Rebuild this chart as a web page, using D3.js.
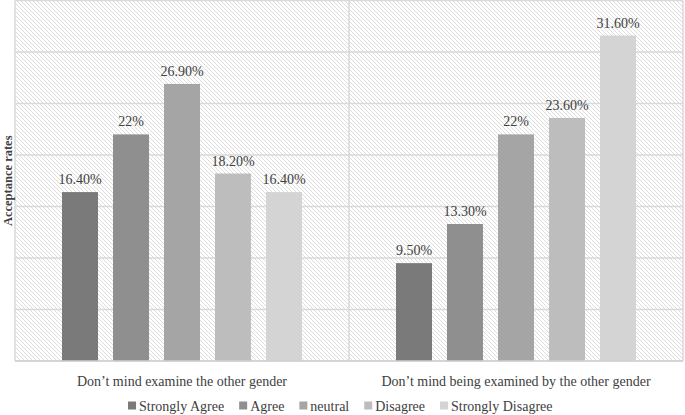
<!DOCTYPE html>
<html>
<head>
<meta charset="utf-8">
<script src="https://cdn.jsdelivr.net/npm/d3@7"></script>
<style>
html,body{margin:0;padding:0;background:#fff;}
svg{display:block;}
svg text{font-family:"Liberation Serif","Times New Roman",Times,serif;}
</style>
</head>
<body>
<svg id="chart" width="685" height="415"></svg>
<script>
const categories = ["Don\u2019t mind examine the other gender", "Don\u2019t mind being examined by the other gender"];
const seriesNames = ["Strongly Agree", "Agree", "neutral", "Disagree", "Strongly Disagree"];
const seriesColors = ["#7a7a7a", "#8f8f8f", "#a5a5a5", "#bdbdbd", "#d4d4d4"];
const valuesExamine = [16.4, 22, 26.9, 18.2, 16.4];
const valuesExamined = [9.5, 13.3, 22, 23.6, 31.6];
const labelsExamine = ["16.40%", "22%", "26.90%", "18.20%", "16.40%"];
const labelsExamined = ["9.50%", "13.30%", "22%", "23.60%", "31.60%"];
const yTicks = [0, 5, 10, 15, 20, 25, 30, 35];

const svg = d3.select("#chart");
const m = {left: 15, right: 2, top: 0.5, bottom: 54};
const W = 685, H = 415;
const x0 = m.left, x1 = W - m.right, yTop = m.top, yBot = H - m.bottom;

const defs = svg.append("defs");
const pat = defs.append("pattern").attr("id", "hatch").attr("patternUnits", "userSpaceOnUse")
  .attr("width", 4).attr("height", 4);
pat.append("rect").attr("width", 4).attr("height", 4).attr("fill", "#fff");
pat.append("path").attr("d", "M-1,-1 L5,5 M-1,3 L1,5 M3,-1 L5,1")
  .attr("stroke", "#dcdcdc").attr("stroke-width", 1);

const xBand = d3.scaleBand().domain(categories).range([x0, x1]).paddingInner(0).paddingOuter(0);
const y = d3.scaleLinear().domain([0, 35]).range([yBot, yTop]);
const bw = xBand.bandwidth();
const groupW = 240;
const xInner = d3.scaleBand().domain(seriesNames).range([(bw - groupW) / 2, (bw + groupW) / 2]).paddingInner(15 / 51).paddingOuter(0);

svg.append("rect").attr("x", x0).attr("y", yTop).attr("width", x1 - x0).attr("height", yBot - yTop)
  .attr("fill", "url(#hatch)");

svg.append("g").selectAll("line").data(yTicks).join("line")
  .attr("x1", x0).attr("x2", x1)
  .attr("y1", d => y(d)).attr("y2", d => y(d))
  .attr("stroke", "#d9d9d9").attr("stroke-width", 1.5);

const seps = [x0, xBand(categories[1]), x1];
svg.append("g").selectAll("line").data(seps).join("line")
  .attr("x1", d => d).attr("x2", d => d).attr("y1", yTop).attr("y2", yBot)
  .attr("stroke", "#d9d9d9").attr("stroke-width", 1.5);

const groups = [
  {cat: categories[0], vals: valuesExamine, labs: labelsExamine},
  {cat: categories[1], vals: valuesExamined, labs: labelsExamined}
];

groups.forEach(g => {
  const gx = xBand(g.cat);
  const data = seriesNames.map((s, i) => ({s, v: g.vals[i], l: g.labs[i], c: seriesColors[i]}));
  svg.append("g").selectAll("rect").data(data).join("rect")
    .attr("x", d => gx + xInner(d.s)).attr("width", xInner.bandwidth())
    .attr("y", d => y(d.v)).attr("height", d => y(0) - y(d.v))
    .attr("fill", d => d.c);
  svg.append("g").selectAll("text").data(data).join("text")
    .attr("x", d => gx + xInner(d.s) + xInner.bandwidth() / 2)
    .attr("y", d => y(d.v) - 8)
    .attr("text-anchor", "middle")
    .attr("font-size", 14).attr("fill", "#404040")
    .text(d => d.l);
});

svg.append("line").attr("x1", x0).attr("x2", x1).attr("y1", yBot).attr("y2", yBot)
  .attr("stroke", "#d0d0d0").attr("stroke-width", 1.5);

svg.append("g").selectAll("text").data(categories).join("text")
  .attr("x", d => xBand(d) + bw / 2).attr("y", yBot + 25)
  .attr("text-anchor", "middle").attr("font-size", 14).attr("fill", "#404040")
  .text(d => d);

svg.append("text").attr("transform", `translate(11.5,${(yTop + yBot) / 2}) rotate(-90)`)
  .attr("text-anchor", "middle").attr("font-size", 12.5)
  .attr("font-weight", "bold").attr("fill", "#404040").text("Acceptance rates");

const leg = svg.append("g");
let lx = 128;
const ly = 406;
seriesNames.forEach((s, i) => {
  leg.append("rect").attr("x", lx).attr("y", ly - 4.5).attr("width", 8).attr("height", 8).attr("fill", seriesColors[i]);
  const t = leg.append("text").attr("x", lx + 11).attr("y", ly + 4.5)
    .attr("font-size", 14).attr("fill", "#404040").text(s);
  lx += 11 + t.node().getComputedTextLength() + 15;
});
</script>
</body>
</html>
